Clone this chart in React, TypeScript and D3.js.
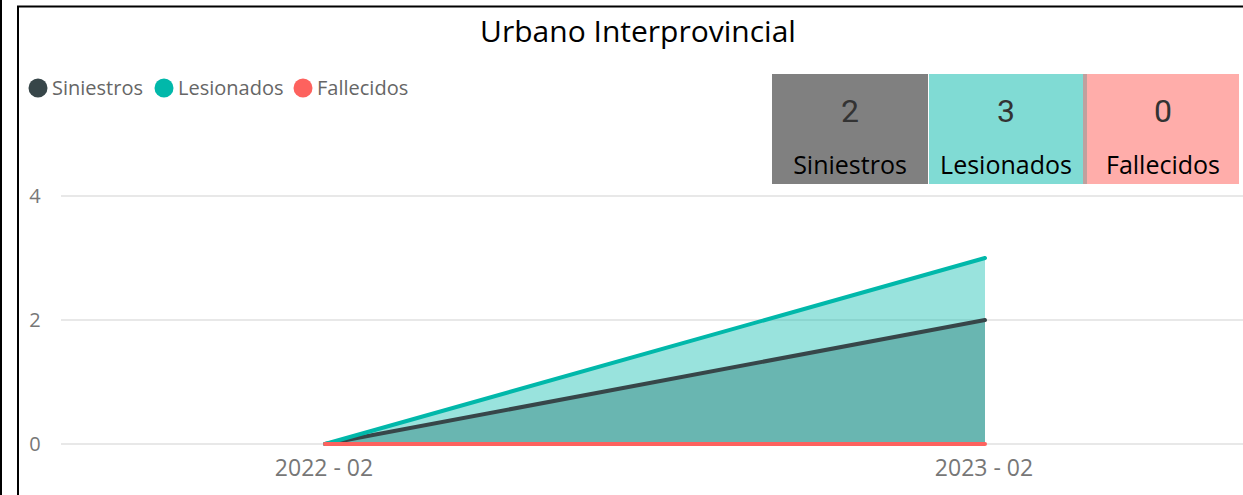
import React from "react";
import * as d3 from "d3";

const periods = ["2022 - 02", "2023 - 02"];
const siniestros = [0, 2];
const lesionados = [0, 3];
const fallecidos = [0, 0];
const yTicks = [0, 2, 4];
const seriesNames = ["Siniestros", "Lesionados", "Fallecidos"];
const seriesColors = ["#374649", "#01B8AA", "#FD625E"];
const cardValues = [2, 3, 0];
const cardColors = ["#808080", "#80DBD4", "#FFADAA"];

const W = 1243;
const H = 495;
const FONT = "'Segoe UI', 'Open Sans', 'Noto Sans', sans-serif";

export default function App() {
  const x = d3.scalePoint<string>().domain(periods).range([325, 985]);
  const y = d3.scaleLinear().domain([0, 4]).range([444, 196]);

  const area = (vals: number[]) =>
    d3
      .area<number>()
      .x((_, i) => x(periods[i]) as number)
      .y0(y(0))
      .y1((d) => y(d))(vals) as string;
  const line = (vals: number[]) =>
    d3
      .line<number>()
      .x((_, i) => x(periods[i]) as number)
      .y((d) => y(d))(vals) as string;

  const legendX = [38, 164, 303];
  const cards = [
    { x0: 772, x1: 928 },
    { x0: 929, x1: 1083 },
    { x0: 1087, x1: 1239 },
  ];

  return (
    <svg
      width={W}
      height={H}
      style={{ position: "absolute", left: 0, top: 0, background: "#fff" }}
      fontFamily={FONT}
    >
      {/* frame */}
      <line x1={1} y1={0} x2={1} y2={H} stroke="#000" strokeWidth={2} />
      <line x1={18} y1={6} x2={18} y2={H} stroke="#000" strokeWidth={2} />
      <line x1={17} y1={6.5} x2={W} y2={6.5} stroke="#000" strokeWidth={2} />

      {/* title */}
      <text x={638} y={42} textAnchor="middle" fontSize={30} fill="#000">
        Urbano Interprovincial
      </text>

      {/* legend */}
      {seriesNames.map((n, i) => (
        <g key={n}>
          <circle cx={legendX[i]} cy={88} r={9.5} fill={seriesColors[i]} />
          <text x={legendX[i] + 14} y={95} fontSize={20} fill="#666">
            {n}
          </text>
        </g>
      ))}

      {/* gridlines & y ticks */}
      {yTicks.map((t) => (
        <g key={t}>
          <line x1={61} x2={W} y1={y(t)} y2={y(t)} stroke="#e8e8e8" strokeWidth={2} />
          <text x={35} y={y(t) + 7} textAnchor="middle" fontSize={20} fill="#777">
            {t}
          </text>
        </g>
      ))}

      {/* x ticks */}
      {periods.map((p) => (
        <text key={p} x={(x(p) as number) - 1} y={476} textAnchor="middle" fontSize={23} fill="#777">
          {p}
        </text>
      ))}

      {/* areas */}
      <path d={area(siniestros)} fill="#374649" fillOpacity={0.4} />
      <path d={area(lesionados)} fill="#01B8AA" fillOpacity={0.4} />
      <path d={area(fallecidos)} fill="#FD625E" fillOpacity={0.4} />

      {/* lines */}
      <path d={line(siniestros)} fill="none" stroke="#374649" strokeWidth={4} strokeLinecap="round" />
      <path d={line(lesionados)} fill="none" stroke="#01B8AA" strokeWidth={4} strokeLinecap="round" />
      <path d={line(fallecidos)} fill="none" stroke="#FD625E" strokeWidth={4} strokeLinecap="round" />

      {/* cards */}
      <rect x={1083} y={74} width={4} height={110} fill="#C0A09E" />
      {cards.map((c, i) => (
        <g key={i}>
          <rect x={c.x0} y={74} width={c.x1 - c.x0} height={110} fill={cardColors[i]} />
          <text
            x={(c.x0 + c.x1) / 2}
            y={122}
            textAnchor="middle"
            fontSize={32}
            fill="#333"
            fontFamily="Roboto, sans-serif"
          >
            {cardValues[i]}
          </text>
          <text x={(c.x0 + c.x1) / 2} y={174} textAnchor="middle" fontSize={25} fill="#000">
            {seriesNames[i]}
          </text>
        </g>
      ))}
    </svg>
  );
}
